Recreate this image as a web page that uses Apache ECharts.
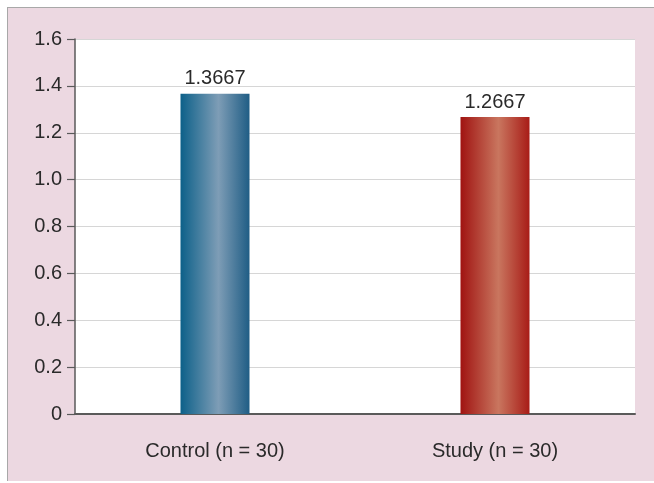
<!DOCTYPE html>
<html>
<head>
<meta charset="utf-8">
<script src="https://cdn.jsdelivr.net/npm/echarts@6/dist/echarts.min.js"></script>
<style>
html,body{margin:0;padding:0;background:#fff;width:654px;height:483px;overflow:hidden;}
#frame{position:absolute;left:7px;top:7px;width:647px;height:474px;background:#ecd8e1;border-left:1px solid #a8a8a8;border-top:1px solid #a8a8a8;box-sizing:border-box;}
#chart{position:absolute;left:0;top:0;width:654px;height:483px;}
</style>
</head>
<body>
<div id="frame"></div>
<div id="chart"></div>
<script>
const categories = ['Control (n = 30)', 'Study (n = 30)'];
const values = [1.3667, 1.2667];
const yTicks = { min: 0, max: 1.6, interval: 0.2 };

const gradients = [
  new echarts.graphic.LinearGradient(0, 0, 1, 0, [
    { offset: 0, color: '#0c6089' },
    { offset: 0.55, color: '#7e9db6' },
    { offset: 1, color: '#1f5d85' }
  ]),
  new echarts.graphic.LinearGradient(0, 0, 1, 0, [
    { offset: 0, color: '#a01311' },
    { offset: 0.55, color: '#c9765f' },
    { offset: 1, color: '#a81c17' }
  ])
];

const chart = echarts.init(document.getElementById('chart'), null, { renderer: 'canvas' });
chart.setOption({
  backgroundColor: 'transparent',
  animation: false,
  textStyle: { fontFamily: 'Liberation Sans, Arial, sans-serif' },
  grid: { left: 75, right: 19, top: 39, bottom: 69, show: true, backgroundColor: '#ffffff', borderWidth: 0 },
  xAxis: {
    type: 'category',
    data: categories,
    axisLine: { lineStyle: { color: '#5a5a5a', width: 2 } },
    axisTick: { show: false },
    axisLabel: { color: '#2a2a2a', fontSize: 20, margin: 27 }
  },
  yAxis: {
    type: 'value',
    min: yTicks.min, max: yTicks.max, interval: yTicks.interval,
    axisLine: { show: true, lineStyle: { color: '#5a5a5a', width: 1.5 } },
    axisTick: { show: true, length: 8, lineStyle: { color: '#5a5a5a', width: 1.2 } },
    axisLabel: { color: '#2a2a2a', fontSize: 20, margin: 13,
      formatter: v => v === 0 ? '0' : v.toFixed(1) },
    splitLine: { lineStyle: { color: '#d6d6d6', width: 1 } }
  },
  series: [{
    type: 'bar',
    barWidth: 69,
    data: values.map((v, i) => ({ value: v, itemStyle: { color: gradients[i] } })),
    label: {
      show: true, position: 'top', distance: 5,
      color: '#2a2a2a', fontSize: 20,
      formatter: p => p.value.toFixed(4)
    }
  }]
});
</script>
</body>
</html>
